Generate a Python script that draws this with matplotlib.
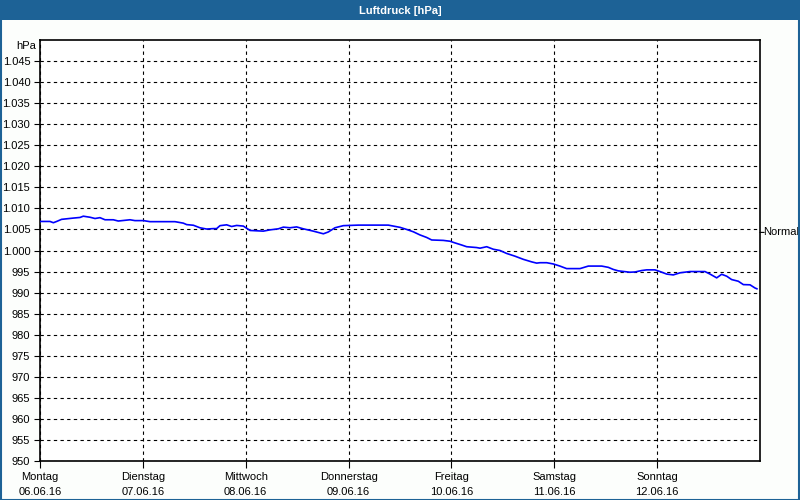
import matplotlib.pyplot as plt
from matplotlib.patches import Rectangle

plt.rcParams['font.family'] = ['Liberation Sans', 'DejaVu Sans']

# Luftdruck-Verlauf, Tage ab Montag 00:00
tage = [0, 0.097, 0.13, 0.162, 0.21, 0.324, 0.389, 0.421, 0.486, 0.535, 0.583,
        0.632, 0.713, 0.761, 0.875, 0.923, 1.005, 1.069, 1.312, 1.393, 1.426,
        1.491, 1.555, 1.62, 1.685, 1.717, 1.75, 1.815, 1.863, 1.912, 1.977,
        2.042, 2.171, 2.236, 2.317, 2.366, 2.43, 2.495, 2.56, 2.657, 2.755,
        2.803, 2.868, 2.949, 3.095, 3.386, 3.5, 3.565, 3.63, 3.694, 3.759,
        3.808, 3.921, 3.986, 4.035, 4.1, 4.148, 4.245, 4.278, 4.343, 4.407,
        4.472, 4.537, 4.618, 4.699, 4.78, 4.829, 4.861, 4.926, 4.991, 5.055,
        5.12, 5.25, 5.331, 5.461, 5.525, 5.574, 5.623, 5.736, 5.785, 5.849,
        5.898, 5.979, 6.028, 6.093, 6.157, 6.222, 6.319, 6.465, 6.514, 6.579,
        6.627, 6.676, 6.724, 6.789, 6.838, 6.903, 6.951, 6.97]
druck = [1006.9, 1006.9, 1006.6, 1006.9, 1007.4, 1007.7, 1007.85, 1008.15,
         1007.9, 1007.6, 1007.8, 1007.3, 1007.3, 1007.0, 1007.3, 1007.1,
         1007.1, 1006.85, 1006.85, 1006.5, 1006.15, 1006.0, 1005.4, 1005.1,
         1005.2, 1005.2, 1005.9, 1006.1, 1005.7, 1005.95, 1005.8, 1004.76,
         1004.6, 1004.9, 1005.15, 1005.55, 1005.4, 1005.6, 1005.15, 1004.6,
         1003.97, 1004.4, 1005.4, 1005.9, 1006.03, 1006.03, 1005.5, 1005.0,
         1004.44, 1003.7, 1003.1, 1002.5, 1002.4, 1002.2, 1001.8, 1001.3,
         1000.9, 1000.7, 1000.55, 1000.9, 1000.3, 1000.0, 999.3, 998.65,
         997.9, 997.3, 997.0, 997.1, 997.1, 996.8, 996.3, 995.7, 995.7,
         996.3, 996.3, 996.0, 995.5, 995.16, 994.84, 994.9, 995.24, 995.4,
         995.4, 995.0, 994.4, 994.2, 994.7, 995.0, 995.0, 994.4, 993.5,
         994.35, 993.9, 993.1, 992.7, 991.9, 991.85, 991.1, 990.9]

wochentage = ['Montag', 'Dienstag', 'Mittwoch', 'Donnerstag', 'Freitag', 'Samstag', 'Sonntag']
daten = ['06.06.16', '07.06.16', '08.06.16', '09.06.16', '10.06.16', '11.06.16', '12.06.16']
y_ticks = list(range(950, 1050, 5))
normal = 1004.3

blau = '#1d6296'

fig = plt.figure(figsize=(8, 5), dpi=100, facecolor='#fcfefc')

# Titelleiste und Rahmen
fig.patches.append(Rectangle((0, 0.96), 1, 0.04, transform=fig.transFigure,
                             facecolor=blau, edgecolor='none', zorder=0))
fig.patches.append(Rectangle((0.0008, 0.001), 0.9984, 0.998, transform=fig.transFigure,
                             facecolor='none', edgecolor=blau, linewidth=1.5, zorder=0))
fig.text(0.5, 0.979, 'Luftdruck [hPa]', color='white', fontsize=8, fontweight='bold',
         ha='center', va='center')

ax = fig.add_axes([0.05, 0.078, 0.9, 0.842])
ax.set_facecolor('white')
ax.plot(tage, druck, color='#0000ff', linewidth=1.2, zorder=3)

ax.set_xlim(0, 7)
ax.set_ylim(950, 1050)

# Achsen
ax.set_yticks(y_ticks)
ax.set_yticklabels([f'{v / 1000:.3f}' if v >= 1000 else str(v) for v in y_ticks])
ax.set_xticks(range(7))
ax.set_xticklabels([w + '\n' + d for w, d in zip(wochentage, daten)], linespacing=1.6)
ax.tick_params(axis='both', labelsize=8, color='black', width=0.8)
ax.tick_params(axis='y', length=4, pad=3)
ax.tick_params(axis='x', length=5, pad=3)

# Rejilla
ax.grid(True, color='black', linestyle=(0, (3, 3)), linewidth=0.8)
for s in ax.spines.values():
    s.set_linewidth(1.2)
    s.set_color('black')

ax.annotate('hPa', xy=(0, 1050), xycoords=('axes fraction', 'data'), xytext=(-3, -1),
            textcoords='offset points', ha='right', va='top', fontsize=8)

# Normaldruck rechts
ax.annotate('', xy=(1, normal), xycoords=('axes fraction', 'data'),
            xytext=(3, 0), textcoords='offset points',
            arrowprops=dict(arrowstyle='-', color='black', linewidth=0.8, shrinkA=0, shrinkB=0))
ax.annotate('Normal', xy=(1, normal), xycoords=('axes fraction', 'data'), xytext=(2.5, 0),
            textcoords='offset points', ha='left', va='center', fontsize=8)

plt.savefig('out.png', dpi=100, facecolor=fig.get_facecolor())
